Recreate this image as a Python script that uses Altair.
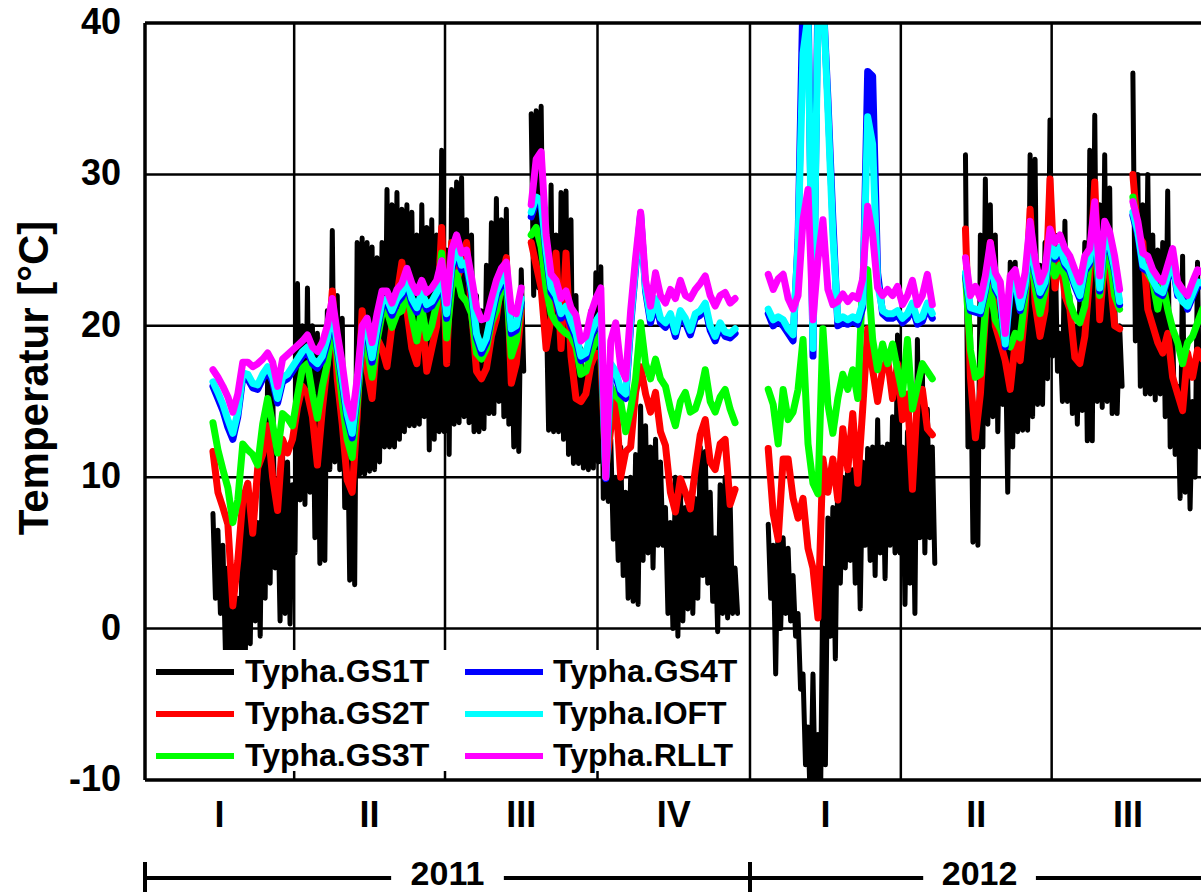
import altair as alt
import pandas as pd

FONT = "Liberation Sans"

SERIES = ["Typha.GS1T", "Typha.GS2T", "Typha.GS3T", "Typha.GS4T", "Typha.IOFT", "Typha.RLLT"]
KEYS = ["gs1t", "gs2t", "gs3t", "gs4t", "ioft", "rllt"]
COLORS = ["#000000", "#ff0000", "#00ff00", "#0000ff", "#00ffff", "#ff00ff"]

# Logger runs: first day (days since 1 Jan 2011) and number of 3-day samples
RUN_START = [41, 233, 376, 495, 596]
RUN_COUNT = [63, 42, 34, 32, 15]
STEP = 3

# GS1T swings strongly between day and night: daily maximum and minimum, °C
gs1t_hi = (
    [7.6, 6.5, 5.5, 4.0, 3.5, 2.0, 8.0, 9.0, 8.8, 7.0, 13.0, 16.8, 16.5, 9.0, 11.5, 11.0, 9.5, 22.8, 20.0, 22.5,
     20.0, 19.5, 17.5, 21.0, 26.3, 22.0, 20.5, 15.0, 14.0, 25.5, 25.8, 25.5, 25.2, 24.5, 25.5, 29.0, 28.0, 28.8, 27.7, 28.0,
     27.5, 26.0, 28.0, 26.5, 27.0, 26.0, 31.6, 25.0, 29.0, 29.5, 29.8, 27.0, 26.0, 22.0, 21.0, 24.0, 26.8, 28.4, 27.0, 27.7,
     21.0, 19.0, 23.7]
    + [34.0, 34.2, 34.5, 22.0, 29.3, 26.0, 28.8, 28.9, 27.0, 22.0, 18.5, 17.0, 21.0, 23.5, 23.9, 12.5, 12.5, 10.0, 12.0, 9.0,
       10.0, 11.5, 14.7, 13.4, 12.0, 12.5, 11.0, 8.0, 7.0, 10.0, 9.4, 8.0, 8.6, 8.6, 12.0, 11.7, 9.0, 6.0, 9.5, 10.0,
       8.5, 4.0]
    + [6.9, 5.5, 7.3, 6.0, 5.3, 3.5, 1.0, -3.0, -6.5, -3.0, -7.0, 4.0, 7.3, 8.0, 10.5, 10.0, 11.2, 10.5, 10.0, 11.0,
       11.9, 12.0, 13.8, 12.0, 12.2, 14.0, 19.4, 12.0, 13.0, 12.5, 19.1, 17.0, 14.5, 12.0]
    + [31.3, 20.0, 14.0, 26.0, 29.7, 28.0, 26.0, 22.0, 20.0, 24.2, 24.2, 21.0, 22.0, 31.3, 31.0, 24.0, 25.5, 33.6, 26.0, 19.5,
       26.9, 22.0, 20.0, 22.0, 25.5, 31.6, 33.9, 28.0, 31.3, 29.1, 22.0, 20.0]
    + [36.7, 30.0, 28.0, 30.0, 26.0, 25.0, 25.5, 28.9, 20.0, 16.0, 24.6, 17.0, 15.0, 24.2, 16.0]
)
gs1t_lo = (
    [2.0, 1.0, -1.5, -2.0, -2.0, -2.0, -2.0, -1.0, 0.5, -0.5, 2.0, 3.0, 4.0, 0.5, 1.0, 0.3, 5.0, 8.5, 8.2, 9.0,
     6.0, 4.3, 4.5, 10.5, 11.0, 10.5, 8.0, 3.2, 2.9, 10.2, 10.2, 10.4, 10.5, 11.0, 12.0, 12.0, 12.0, 12.5, 13.0, 13.4,
     13.4, 13.5, 14.0, 11.8, 12.5, 13.0, 13.0, 11.5, 13.5, 13.6, 14.0, 13.6, 13.0, 13.0, 13.2, 14.2, 14.2, 15.0, 14.0, 13.5,
     12.0, 11.7, 17.0]
    + [22.0, 22.5, 20.0, 13.1, 13.0, 13.0, 12.5, 11.5, 10.9, 10.9, 10.6, 10.5, 10.6, 11.0, 8.6, 8.4, 5.9, 4.5, 3.5, 2.0,
       1.8, 1.6, 4.5, 5.0, 4.0, 5.5, 5.5, 1.0, 0.0, -0.5, 0.5, 1.3, 1.0, 2.0, 3.5, 3.0, 1.8, -0.2, 1.0, 0.7,
       1.0, 1.0]
    + [2.0, -3.0, 0.0, 1.0, 0.5, -0.5, -4.0, -9.0, -12.0, -12.0, -12.0, -9.0, -0.5, -2.0, 3.0, 4.0, 4.5, 3.0, 1.3, 5.5,
       4.5, 3.5, 5.0, 3.3, 5.5, 5.0, 5.0, 1.6, 3.0, 1.0, 6.0, 5.0, 6.0, 4.3]
    + [12.0, 5.7, 5.5, 12.0, 13.5, 14.0, 13.0, 14.8, 9.0, 12.0, 13.0, 13.1, 13.1, 14.0, 14.8, 14.8, 16.5, 18.0, 17.0, 15.0,
       15.0, 14.2, 13.5, 14.4, 12.4, 12.4, 15.0, 14.6, 15.0, 14.2, 14.2, 16.0]
    + [19.0, 16.0, 15.5, 15.5, 15.1, 15.5, 14.0, 12.0, 11.5, 8.6, 9.0, 7.9, 10.0, 12.0, 12.0]
)
gs2t = (
    [11.7, 9.0, 8.0, 6.9, 1.5, 4.5, 8.5, 9.6, 6.3, 10.6, 11.5, 13.4, 10.0, 7.8, 12.5, 11.6, 12.5, 14.6, 16.0, 15.5,
     14.0, 10.8, 14.5, 17.5, 22.3, 16.5, 13.5, 9.8, 9.0, 14.0, 21.0, 17.0, 15.2, 19.2, 18.5, 17.3, 20.0, 22.0, 24.2, 21.0,
     18.5, 17.5, 21.0, 17.0, 18.5, 20.0, 26.5, 17.5, 25.5, 23.0, 24.0, 25.5, 21.0, 17.0, 16.5, 17.2, 19.3, 20.5, 23.0, 24.5,
     16.2, 17.5, 21.0]
    + [25.5, 24.0, 22.5, 18.5, 20.5, 24.8, 18.5, 24.8, 18.0, 15.2, 15.0, 15.5, 17.4, 18.2, 18.0, 10.5, 13.2, 15.4, 10.0, 11.7,
       12.0, 15.6, 17.3, 15.5, 14.3, 15.6, 13.0, 12.1, 9.0, 7.7, 9.9, 9.0, 7.9, 10.5, 12.8, 13.8, 11.0, 10.5, 12.2, 12.5,
       8.2, 9.2]
    + [11.9, 7.6, 5.9, 11.2, 11.2, 8.6, 7.3, 8.6, 5.3, 4.0, 0.7, 11.2, 9.0, 11.2, 8.5, 13.2, 10.5, 14.2, 9.6, 14.5,
       19.8, 17.1, 15.0, 17.1, 17.8, 15.2, 17.5, 13.8, 15.5, 9.2, 15.2, 15.8, 13.2, 12.8]
    + [26.4, 16.6, 12.6, 15.5, 20.6, 25.5, 20.0, 18.9, 17.7, 15.8, 18.9, 17.7, 21.1, 27.7, 21.5, 19.3, 21.0, 29.7, 22.5, 25.1,
       22.0, 21.1, 17.9, 17.5, 19.3, 23.3, 29.5, 20.4, 24.5, 23.5, 20.0, 19.8]
    + [30.0, 26.0, 25.5, 21.1, 20.0, 18.9, 18.2, 19.5, 16.6, 15.5, 14.4, 18.2, 16.6, 18.4, 17.8]
)
gs3t = (
    [13.6, 11.8, 10.5, 9.3, 7.0, 8.5, 12.2, 11.8, 11.5, 10.8, 13.5, 15.2, 13.5, 11.6, 14.2, 13.9, 13.4, 15.4, 17.2, 17.5,
     15.5, 13.9, 16.0, 17.5, 20.2, 18.0, 15.0, 12.5, 11.3, 14.8, 18.8, 18.5, 16.6, 19.0, 20.8, 21.0, 19.9, 20.8, 21.0, 22.4,
     20.5, 19.0, 21.2, 19.2, 20.0, 21.5, 24.8, 19.2, 22.5, 23.5, 22.0, 21.6, 20.8, 18.2, 17.8, 18.5, 20.2, 21.0, 22.5, 22.7,
     18.0, 19.0, 21.5]
    + [26.0, 26.5, 25.2, 22.5, 20.8, 20.2, 19.8, 19.5, 19.3, 18.6, 16.8, 17.0, 18.2, 19.0, 19.5, 10.0, 16.0, 15.4, 15.0, 13.0,
       14.5, 16.5, 20.2, 17.5, 16.5, 17.8, 16.5, 16.0, 14.5, 13.4, 15.0, 15.6, 14.3, 14.5, 15.5, 17.1, 15.0, 14.3, 15.3, 15.8,
       14.5, 13.6]
    + [15.8, 14.8, 12.2, 15.8, 13.8, 14.3, 15.8, 19.1, 12.2, 9.6, 8.9, 19.8, 14.8, 12.9, 15.2, 16.8, 15.8, 17.1, 15.2, 23.1,
       23.7, 19.1, 17.1, 18.8, 17.5, 18.8, 17.1, 15.5, 19.1, 14.5, 16.0, 17.5, 17.0, 16.5]
    + [23.3, 18.4, 16.6, 16.8, 21.1, 22.5, 20.4, 19.8, 18.9, 18.6, 19.5, 19.2, 22.0, 25.5, 22.5, 20.8, 22.3, 24.6, 23.3, 24.0,
       23.3, 21.5, 20.6, 20.2, 21.3, 24.5, 25.5, 22.0, 24.2, 24.6, 22.0, 21.1]
    + [28.5, 26.2, 24.6, 23.5, 22.9, 21.1, 22.9, 21.1, 19.8, 18.9, 17.5, 18.9, 19.3, 20.2, 21.1]
)
gs4t = (
    [16.0, 15.2, 14.4, 13.3, 12.5, 14.0, 16.6, 16.5, 15.9, 15.8, 16.5, 17.0, 16.3, 14.9, 16.3, 16.5, 17.0, 17.5, 18.0, 18.3,
     17.5, 17.2, 17.7, 18.9, 20.9, 18.5, 16.2, 13.9, 12.6, 15.5, 19.1, 19.5, 17.6, 19.6, 21.3, 21.5, 20.7, 21.5, 21.9, 22.7,
     21.5, 20.9, 21.9, 21.1, 21.3, 21.9, 23.2, 20.5, 23.7, 24.9, 23.7, 23.9, 22.1, 19.2, 18.2, 18.9, 20.5, 22.0, 22.7, 23.2,
     19.5, 19.7, 21.5]
    + [27.2, 28.2, 28.0, 24.7, 22.2, 21.7, 20.5, 21.0, 20.0, 19.2, 17.7, 17.9, 19.2, 20.0, 20.5, 9.9, 17.2, 16.7, 15.5, 15.2,
       20.0, 23.8, 27.4, 22.3, 20.2, 21.5, 20.2, 19.9, 20.5, 19.3, 20.7, 20.2, 19.4, 20.5, 20.7, 21.2, 19.7, 19.0, 19.9, 19.3,
       19.2, 19.5]
    + [20.8, 20.0, 20.3, 20.0, 19.5, 19.0, 25.7, 42.0, 42.0, 18.0, 42.0, 42.0, 35.0, 27.0, 20.0, 20.2, 20.1, 20.3, 20.1, 21.2,
       36.8, 36.5, 23.5, 20.8, 20.5, 20.5, 20.7, 20.2, 20.5, 21.2, 20.1, 20.3, 21.2, 20.5]
    + [23.3, 21.0, 20.9, 20.8, 22.3, 24.3, 22.4, 21.8, 18.6, 22.2, 22.7, 21.0, 22.5, 25.8, 23.4, 22.0, 22.7, 25.4, 24.4, 25.0,
       24.0, 23.6, 22.6, 21.8, 23.6, 24.1, 27.1, 22.3, 25.8, 25.1, 23.6, 21.4]
    + [27.3, 26.0, 23.8, 23.6, 23.2, 22.2, 22.0, 23.1, 24.1, 22.0, 22.2, 21.1, 21.9, 22.7, 22.6]
)
ioft = (
    [16.3, 15.6, 14.8, 13.8, 12.9, 14.3, 16.9, 16.8, 16.2, 16.1, 16.8, 17.3, 16.6, 15.2, 16.6, 16.8, 17.3, 17.8, 18.3, 18.6,
     17.8, 17.5, 18.0, 19.2, 21.2, 18.8, 16.5, 14.2, 12.9, 15.8, 19.4, 19.8, 17.9, 19.9, 21.6, 21.8, 21.0, 21.8, 22.2, 23.0,
     21.8, 21.2, 22.2, 21.4, 21.6, 22.2, 23.5, 20.8, 24.0, 25.2, 24.0, 24.2, 22.4, 19.5, 18.5, 19.2, 20.8, 22.3, 23.0, 23.5,
     19.8, 20.0, 21.8]
    + [27.5, 28.5, 28.3, 25.0, 22.5, 22.0, 20.8, 21.3, 20.3, 19.5, 18.0, 18.2, 19.5, 20.3, 20.8, 10.0, 17.5, 17.0, 15.8, 15.5,
       20.3, 24.0, 27.0, 22.5, 20.5, 21.8, 20.5, 20.2, 20.8, 19.6, 21.0, 20.5, 19.7, 20.8, 21.0, 21.5, 20.0, 19.3, 20.2, 19.6,
       19.5, 19.8]
    + [21.1, 20.4, 20.6, 20.4, 19.8, 19.4, 25.4, 38.0, 40.5, 18.5, 40.5, 42.0, 34.3, 26.0, 20.4, 20.6, 20.4, 20.6, 20.4, 21.5,
       33.8, 32.0, 22.8, 21.0, 20.8, 20.8, 21.0, 20.5, 20.8, 21.5, 20.4, 20.6, 21.5, 20.8]
    + [23.5, 21.2, 21.1, 21.0, 22.5, 24.5, 22.6, 22.0, 18.8, 22.4, 22.9, 21.2, 22.7, 26.0, 23.6, 22.2, 22.9, 25.6, 24.6, 25.2,
       24.2, 23.8, 22.8, 22.0, 23.8, 24.3, 27.3, 22.5, 26.0, 25.3, 23.8, 21.6]
    + [27.5, 26.2, 24.0, 23.8, 23.0, 22.4, 22.2, 23.3, 24.3, 22.2, 21.6, 21.3, 22.1, 22.9, 22.8]
)
rllt = (
    [17.1, 16.6, 16.0, 15.3, 14.3, 15.5, 17.6, 17.6, 17.3, 17.5, 17.8, 18.2, 17.6, 16.0, 17.8, 18.1, 18.4, 18.7, 19.0, 19.4,
     18.6, 18.3, 18.9, 20.0, 21.8, 19.5, 17.5, 15.0, 13.9, 16.5, 20.0, 20.5, 18.9, 20.8, 22.3, 22.3, 21.5, 22.4, 22.8, 23.8,
     22.8, 22.2, 23.0, 22.2, 22.5, 23.0, 24.3, 21.5, 25.0, 26.0, 24.8, 25.0, 23.2, 21.2, 20.4, 20.5, 21.8, 23.0, 23.8, 24.2,
     21.0, 20.8, 22.5]
    + [28.0, 31.0, 31.5, 26.0, 23.4, 23.0, 21.8, 22.3, 21.2, 20.7, 19.0, 19.3, 20.8, 21.8, 22.5, 10.0, 19.0, 20.2, 17.3, 16.5,
       21.0, 24.5, 27.5, 23.0, 21.3, 23.5, 22.0, 21.5, 22.4, 21.8, 23.0, 22.0, 21.8, 22.4, 22.8, 23.3, 22.0, 21.3, 22.0, 22.2,
       21.5, 21.8]
    + [23.4, 22.4, 23.1, 23.4, 21.8, 21.1, 22.0, 27.0, 29.0, 20.4, 24.4, 27.0, 22.4, 21.4, 21.6, 22.1, 21.6, 22.0, 21.8, 23.1,
       27.9, 26.0, 22.5, 22.0, 22.4, 22.0, 22.6, 21.4, 22.0, 23.0, 21.4, 22.0, 23.4, 21.4]
    + [24.5, 22.0, 22.6, 21.8, 23.3, 25.5, 23.5, 22.9, 19.5, 23.3, 23.7, 22.0, 23.5, 26.9, 24.4, 22.9, 23.7, 26.4, 25.5, 26.0,
       25.1, 24.6, 23.7, 22.9, 24.6, 25.1, 28.2, 23.3, 26.9, 26.2, 24.6, 22.4]
    + [28.2, 26.9, 24.8, 24.6, 23.7, 23.2, 22.9, 24.0, 25.1, 22.9, 22.4, 22.0, 22.9, 23.7, 23.5]
)

QUARTER_EDGES = [90, 181, 273, 365, 456, 547]
QUARTER_MID = [45, 135.5, 227, 319, 410.5, 501.5, 593]
QUARTER_LABELS = ["I", "II", "III", "IV", "I", "II", "III"]
Y_TICKS = [-10, 0, 10, 20, 30, 40]
Y_TICK_LABELS = ["-10", "0", "10", "20", "30", "40"]
Y_GRID = [0, 10, 20, 30]
YEARS = ["2011", "2012"]
YEAR_START = [0, 365]
YEAR_END = [365, 642]

# ---- tables ------------------------------------------------------------
days, runs = [], []
for r, (start, n) in enumerate(zip(RUN_START, RUN_COUNT)):
    days += [start + STEP * i for i in range(n)]
    runs += [r] * n

smooth = {"gs2t": gs2t, "gs3t": gs3t, "gs4t": gs4t, "ioft": ioft, "rllt": rllt}
for k, v in list(smooth.items()) + [("gs1t_hi", gs1t_hi), ("gs1t_lo", gs1t_lo)]:
    assert len(v) == len(days), (k, len(v), len(days))
df = pd.DataFrame({"day": days, "run": runs, **smooth})

# GS1T: daily maximum at the sample day, minimum half a sample later
k_day, k_val, k_run = [], [], []
for d, r, hi, lo in zip(days, runs, gs1t_hi, gs1t_lo):
    k_day += [d, d + STEP / 2]
    k_val += [hi, lo]
    k_run += [r, r]
df_k = pd.DataFrame({"day": k_day, "gs1t": k_val, "run": k_run})

W, H = 1056, 757
xs = alt.Scale(domain=[0, 637.1], nice=False, zero=False)
ys = alt.Scale(domain=[-10, 40], nice=False, zero=False)

# ---- grid --------------------------------------------------------------
hgrid = alt.Chart(pd.DataFrame({"t": Y_GRID})).mark_rule(color="black", strokeWidth=2.5).encode(
    y=alt.Y("t:Q", scale=ys, axis=None))
vgrid = alt.Chart(pd.DataFrame({"d": QUARTER_EDGES})).mark_rule(color="black", strokeWidth=2.5).encode(
    x=alt.X("d:Q", scale=xs, axis=None))

# ---- series ------------------------------------------------------------
def series_line(data, key, color, width):
    return alt.Chart(data).mark_line(
        color=color, strokeWidth=width, clip=True, strokeJoin="round", strokeCap="round"
    ).encode(
        x=alt.X("day:Q", scale=xs, axis=None),
        y=alt.Y(f"{key}:Q", scale=ys, axis=None),
        detail="run:N",
    )

lines = [series_line(df_k, "gs1t", COLORS[0], 5)]
for k, c in zip(KEYS[1:], COLORS[1:]):
    lines.append(series_line(df, k, c, 7))

# ---- y labels and title ------------------------------------------------
ylab = alt.Chart(pd.DataFrame({"t": Y_TICKS, "lab": Y_TICK_LABELS})).mark_text(
    font=FONT, fontSize=36, fontWeight="bold", align="right", baseline="middle", color="black", dx=-24).encode(
    x=alt.value(0), y=alt.Y("t:Q", scale=ys, axis=None), text="lab:N")
ytitle = alt.Chart(pd.DataFrame({"a": [0]})).mark_text(
    text="Temperatur [°C]", font=FONT, fontSize=42, fontWeight="bold", angle=270,
    align="center", baseline="middle", color="black").encode(x=alt.value(-110), y=alt.value(355))

# ---- legend box --------------------------------------------------------
box = alt.Chart(pd.DataFrame({"a": [0]})).mark_rect(color="white").encode(
    x=alt.value(0), x2=alt.value(602), y=alt.value(627), y2=alt.value(757))
inner_ticks = alt.Chart(pd.DataFrame({"d": QUARTER_EDGES[:3]})).mark_rule(color="black", strokeWidth=2.5).encode(
    x=alt.X("d:Q", scale=xs, axis=None), y=alt.value(748), y2=alt.value(757))

leg = alt.Chart(pd.DataFrame({"name": SERIES, "color": COLORS, "slot": list(range(6))})).transform_calculate(
    col="floor(datum.slot / 3)", row="datum.slot % 3"
).transform_calculate(
    lx="11 + datum.col * 309", lx2="89 + datum.col * 309", ly="649 + datum.row * 42", tx="100 + datum.col * 308"
)
leg_lines = leg.mark_rule(strokeWidth=6).encode(
    x=alt.X("lx:Q", scale=None), x2="lx2:Q", y=alt.Y("ly:Q", scale=None), color=alt.Color("color:N", scale=None))
leg_text = leg.mark_text(align="left", baseline="middle", font=FONT, fontSize=32, fontWeight="bold",
                         color="black").encode(
    x=alt.X("tx:Q", scale=None), y=alt.Y("ly:Q", scale=None), text="name:N")

# ---- frame -------------------------------------------------------------
frame_h = alt.Chart(pd.DataFrame({"t": [-10, 40]})).mark_rule(color="black", strokeWidth=3.5).encode(
    y=alt.Y("t:Q", scale=ys, axis=None))
frame_v = alt.Chart(pd.DataFrame({"d": [0]})).mark_rule(color="black", strokeWidth=3.5).encode(
    x=alt.X("d:Q", scale=xs, axis=None))

# ---- quarter and year labels ------------------------------------------
qlab = alt.Chart(pd.DataFrame({"d": QUARTER_MID, "q": QUARTER_LABELS})).mark_text(
    font=FONT, fontSize=36, fontWeight="bold", baseline="alphabetic", color="black").encode(
    x=alt.X("d:Q", scale=xs, axis=None), y=alt.value(804), text="q:N")

yr = alt.Chart(pd.DataFrame({"year": YEARS, "start": YEAR_START, "end": YEAR_END})).transform_calculate(
    mid="(datum.start + datum.end) / 2"
).transform_calculate(a="datum.mid - 34", b="datum.mid + 34")
yr_text = yr.mark_text(font=FONT, fontSize=34, fontWeight="bold", baseline="middle", color="black").encode(
    x=alt.X("mid:Q", scale=xs, axis=None), y=alt.value(852), text="year:N")
yr_left = yr.mark_rule(color="black", strokeWidth=4).encode(
    x=alt.X("start:Q", scale=xs, axis=None), x2="a:Q", y=alt.value(855))
yr_right = yr.mark_rule(color="black", strokeWidth=4).encode(
    x=alt.X("b:Q", scale=xs, axis=None), x2="end:Q", y=alt.value(855))
yr_tick_a = yr.mark_rule(color="black", strokeWidth=4).encode(
    x=alt.X("start:Q", scale=xs, axis=None), y=alt.value(839), y2=alt.value(870))
yr_tick_b = yr.mark_rule(color="black", strokeWidth=4).encode(
    x=alt.X("end:Q", scale=xs, axis=None), y=alt.value(839), y2=alt.value(870))

chart = alt.layer(
    hgrid, vgrid, *lines, box, inner_ticks, leg_lines, leg_text, frame_h, frame_v,
    ylab, ytitle, qlab, yr_left, yr_right, yr_tick_a, yr_tick_b, yr_text,
).properties(
    width=W, height=H,
    padding={"left": 145, "top": 23, "right": 0, "bottom": 112},
    autosize=alt.AutoSizeParams(type="none"),
).configure_view(stroke=None).configure(background="white")

chart.save("out.html", embed_options={"renderer": "svg", "actions": False})
